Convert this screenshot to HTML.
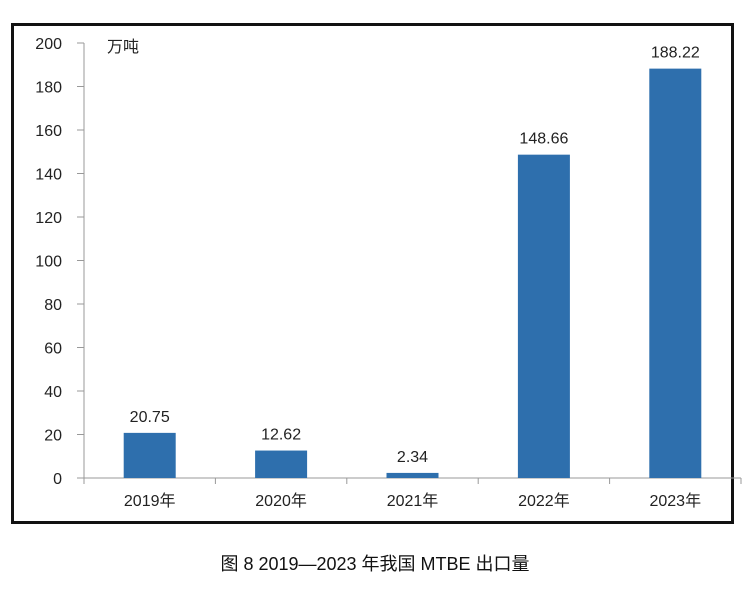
<!DOCTYPE html>
<html><head><meta charset="utf-8"><style>
body{margin:0;background:#fff;width:750px;height:589px;overflow:hidden}
svg text{font-family:"Liberation Sans","Noto Sans CJK SC",sans-serif}
</style></head><body>
<svg id="c" width="750" height="589" xmlns="http://www.w3.org/2000/svg">
<rect x="12.5" y="24.5" width="720" height="498" fill="#fff" stroke="#111" stroke-width="3"/>
<text x="107" y="52" font-size="16" fill="#222">万吨</text>
<text x="375" y="570" font-size="18" text-anchor="middle" fill="#111">图 8 2019—2023 年我国 MTBE 出口量</text>
<g id="plot"></g>
</svg>
<script>
const categories=["2019年","2020年","2021年","2022年","2023年"];
const values=[20.75,12.62,2.34,148.66,188.22];
const labels=["20.75","12.62","2.34","148.66","188.22"];
const yTicks=[0,20,40,60,80,100,120,140,160,180,200];
const x0=84,bandW=131.4,y0=478,yTop=43,yMax=200;
const y=v=>y0-(v/yMax)*(y0-yTop);
const xb=i=>x0+i*bandW;
const g=document.getElementById('plot');
const NS="http://www.w3.org/2000/svg";
function mk(t,a){const e=document.createElementNS(NS,t);for(const k in a)e.setAttribute(k,a[k]);g.appendChild(e);return e;}
let ax=mk('line',{x1:x0,y1:yTop,x2:x0,y2:y0,stroke:'#999','stroke-width':1});


let bx=mk('line',{x1:x0,y1:y0,x2:x0+5*bandW,y2:y0,stroke:'#999','stroke-width':1});


yTicks.forEach(t=>{
  const l=mk('line',{x1:x0-7,y1:y(t),x2:x0,y2:y(t),stroke:'#999'});
  
  
  const tx=mk('text',{x:62,y:y(t)+6,'font-size':16,'text-anchor':'end',fill:'#222'});
  tx.textContent=t;
  
  
});
for(let i=0;i<=5;i++){
  const l=mk('line',{x1:xb(i),y1:y0,x2:xb(i),y2:y0+6,stroke:'#999'});
  
  
}
categories.forEach((c,i)=>{
  const cx=xb(i)+bandW/2,bw=52;
  const r=mk('rect',{x:cx-bw/2,y:y(values[i]),width:bw,height:y0-y(values[i]),fill:'#2e6fad'});
  
  
  const v=mk('text',{x:cx,y:y(values[i])-11,'font-size':16,'text-anchor':'middle',fill:'#222'});
  v.textContent=labels[i];
  
  
  const t=mk('text',{x:cx,y:y0+28,'font-size':16,'text-anchor':'middle',fill:'#222'});
  t.textContent=c;
  
  
});
</script>
</body></html>
